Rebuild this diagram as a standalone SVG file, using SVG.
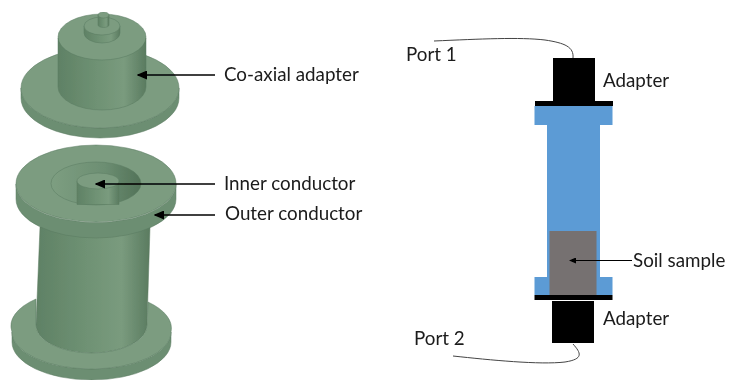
<svg xmlns="http://www.w3.org/2000/svg" width="729" height="380" viewBox="0 0 729 380">
<style>
text{font-family:Lato,"Open Sans","Liberation Sans",sans-serif;font-size:18.800px;fill:#1a1a1a}
.top{fill:#7b9c80;stroke:#5a7a60;stroke-width:.5}
.side{fill:url(#cyl);stroke:#5a7a60;stroke-width:.5}
.edge{fill:#6c8e72;stroke:#5a7a60;stroke-width:.5}
.ar{stroke:#000;stroke-width:1.500;fill:none;marker-end:url(#ah)}
.wire{stroke:#444;stroke-width:1;fill:none}
.blk{fill:#000}.blue{fill:#5b9bd5}
</style>
<defs>
<linearGradient id="cyl"><stop offset="0" stop-color="#5f8165"/><stop offset=".45" stop-color="#6f9274"/><stop offset=".75" stop-color="#7a9b7e"/><stop offset="1" stop-color="#5a7b60"/></linearGradient>
<linearGradient id="rec"><stop offset="0" stop-color="#7d9e81"/><stop offset=".6" stop-color="#6c8e72"/><stop offset="1" stop-color="#527258"/></linearGradient>
<marker id="ah" markerWidth="7" markerHeight="6" refX="6" refY="3" orient="auto"><path d="M0 0L7 3L0 6Z" fill="#000"/></marker>
<filter id="soft" x="0" y="0" width="1" height="1"><feGaussianBlur stdDeviation=".45"/></filter>
</defs>
<rect width="729" height="380" fill="#fff"/>
<g filter="url(#soft)">
<g id="coaxial-adapter">
<path class="edge" d="M21 88A79 40 0 0 0 179 88V98A79 40 0 0 1 21 98Z"/>
<ellipse class="top" cx="100" cy="88" rx="79" ry="40"/>
<path class="side" d="M58 38V87A44 23 0 0 0 146 87V38Z"/>
<ellipse class="top" cx="102" cy="37" rx="44" ry="23"/>
<path class="side" d="M84 26V33A18 10 0 0 0 120 33V26Z"/>
<ellipse class="top" cx="102" cy="26" rx="18" ry="9"/>
<path class="side" d="M98 15V25A5.500 2.500 0 0 0 109 25V15Z"/>
<ellipse class="top" cx="103.500" cy="15" rx="5.500" ry="3"/>
</g>
<g id="outer-conductor">
<path class="side" d="M36 325A55.500 28 0 0 0 147 325L150 227H40Z"/>
<path class="edge" d="M12 332A79.500 37 0 0 0 171 332V342A79.500 38 0 0 1 12 342Z"/>
<path class="top" d="M36 299A79.500 37 0 0 0 12 332A79.500 37 0 0 0 171 332A79.500 37 0 0 0 148 302L147 325A55.500 28 0 0 1 36 325Z"/>
<path class="edge" d="M16 184A80 38.500 0 0 0 176 184V199A80 39 0 0 1 16 199Z"/>
<ellipse class="top" cx="96" cy="183.500" rx="80" ry="38.500"/>
<ellipse cx="96" cy="183.500" rx="45" ry="21.500" fill="url(#rec)" stroke="#5a7a60" stroke-width=".5"/>
</g>
<g id="inner-conductor">
<path class="side" d="M77 181V204.500H119V181Z"/>
<ellipse class="top" cx="98" cy="181" rx="21" ry="8"/>
</g>
<g id="cell">
<rect class="blue" x="534.500" y="106" width="78" height="19"/>
<rect class="blue" x="547" y="125" width="53" height="152"/>
<rect class="blue" x="534.500" y="277" width="78" height="18"/>
<rect x="549.500" y="231" width="47" height="65" fill="#767171"/>
</g>
<g id="adapter-top">
<rect class="blk" x="553" y="58" width="42" height="43"/>
<rect class="blk" x="535" y="101" width="78" height="5"/>
</g>
<g id="adapter-bottom">
<rect class="blk" x="534.500" y="295" width="78" height="5"/>
<rect class="blk" x="552" y="301" width="42" height="42"/>
</g>
<g id="connectors">
<path class="wire" d="M434 41C480 39 520 37 545 40C565 43 574 47 573 58"/>
<path class="wire" d="M453 356C490 360 540 365 565 362C584 359 581 353 573 344"/>
<path class="ar" d="M215 75H138"/>
<path class="ar" d="M215 184H96"/>
<path class="ar" d="M215 215H155"/>
<path class="ar" d="M632 260.500H570" style="stroke-width:1"/>
</g>
<g id="labels">
<text x="224" y="81">Co-axial adapter</text>
<text x="224" y="190">Inner conductor</text>
<text x="225" y="220">Outer conductor</text>
<text x="406" y="61">Port 1</text>
<text x="603" y="87">Adapter</text>
<text x="633" y="267">Soil sample</text>
<text x="603" y="325">Adapter</text>
<text x="414" y="345">Port 2</text>
</g>
</g>
</svg>
